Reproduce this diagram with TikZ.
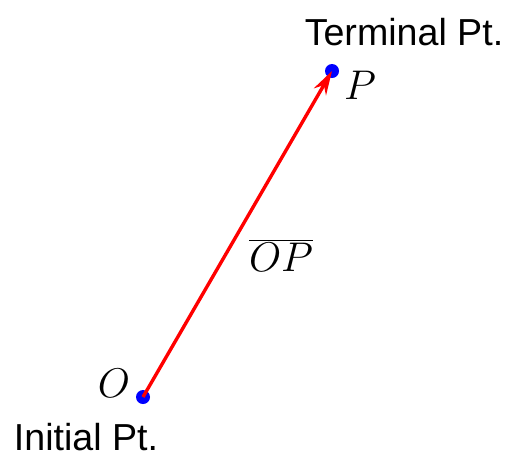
\documentclass[tikz,border=0pt]{standalone}
\usepackage{fontspec}
\setsansfont{Liberation Sans}
\usetikzlibrary{arrows.meta}
\begin{document}
\begin{tikzpicture}[x=0.5pt,y=-0.5pt,
  pt/.style={circle,fill=blue,inner sep=0pt,minimum size=7pt},
  lbl/.style={font=\sffamily\fontsize{18.8}{22}\selectfont,inner sep=0pt},
  mlbl/.style={font=\fontsize{19.6}{23}\selectfont,inner sep=0pt},
  vec/.style={red,line width=1.7pt,-{Stealth[length=12pt,width=7pt]}}]
\useasboundingbox (0,0) rectangle (507,456);
\node[pt] (O) at (143,397) {};
\node[pt] (P) at (332,71) {};
\draw[vec] (O.center) -- (P.center);
\node[mlbl] (Ol) at (114,383) {$O$};
\node[mlbl] (Pl) at (360,85) {$P$};
\node[mlbl] (OP) at (281,255) {$\overline{OP}$};
\node[lbl] (term) at (404,32) {Terminal Pt.};
\node[lbl] (init) at (86,437) {Initial Pt.};
\end{tikzpicture}
\end{document}
